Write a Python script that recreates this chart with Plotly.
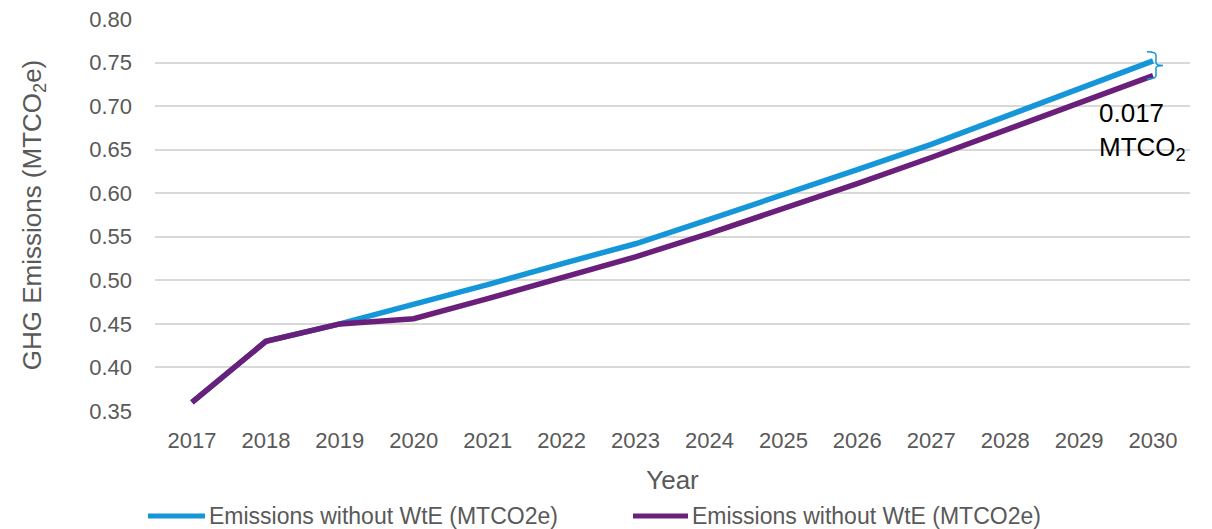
import plotly.graph_objects as go

# Projected GHG emissions, 2017-2030
years = [str(y) for y in range(2017, 2031)]
without_wte = [0.360, 0.430, 0.450, 0.472, 0.495, 0.519, 0.542, 0.570,
               0.598, 0.627, 0.656, 0.688, 0.720, 0.752]
with_wte = [0.360, 0.430, 0.450, 0.456, 0.479, 0.503, 0.527, 0.554,
            0.582, 0.611, 0.641, 0.672, 0.704, 0.735]
series_names = ["Emissions without WtE (MTCO2e)", "Emissions without WtE (MTCO2e)"]
y_ticks = [0.35, 0.40, 0.45, 0.50, 0.55, 0.60, 0.65, 0.70, 0.75, 0.80]

BLUE = "#1496D8"
PURPLE = "#6A1F7A"
GREY_TEXT = "#595959"
GRID = "#D9D9D9"
FONT = "Liberation Sans, Arial, sans-serif"

W, H = 1212, 529
ML, MR, MT, MB = 155, 22, 19, 118
plot_w = W - ML - MR
plot_h = H - MT - MB


def px_x(px):
    return (px - ML) / plot_w


def px_y(py):
    return (H - MB - py) / plot_h


fig = go.Figure()
fig.add_trace(go.Scatter(x=years, y=without_wte, mode="lines", name=series_names[0],
                         line=dict(color=BLUE, width=5.5), showlegend=False))
fig.add_trace(go.Scatter(x=years, y=with_wte, mode="lines", name=series_names[1],
                         line=dict(color=PURPLE, width=5.5), showlegend=False))

# Gap between the two scenarios in the final year
gap = without_wte[-1] - with_wte[-1]
top = without_wte[-1] + 0.0105
bot = with_wte[-1] - 0.004
mid = (top + bot) / 2
xa, xb, xc = px_x(1147), px_x(1156), px_x(1163)
brace = (f"M{xa},{top} Q{xb},{top} {xb},{top - 0.004} "
         f"L{xb},{mid + 0.003} Q{xb},{mid} {xc},{mid} "
         f"Q{xb},{mid} {xb},{mid - 0.003} "
         f"L{xb},{bot + 0.004} Q{xb},{bot} {xa},{bot}")
fig.add_shape(type="path", path=brace, xref="paper", yref="y",
              line=dict(color=BLUE, width=1.5))

fig.add_annotation(x=px_x(1097), y=px_y(96), xref="paper", yref="paper",
                   xanchor="left", yanchor="top", align="left", showarrow=False,
                   text=f"{gap:.3f}<br>MTCO<sub>2</sub>",
                   font=dict(family=FONT, size=26, color="#000000"))

# Legend drawn below the axis title
legend_items = [(148, 205, 207, BLUE), (633, 688, 690, PURPLE)]
for (x0, x1, xt, col), name in zip(legend_items, series_names):
    fig.add_shape(type="line", xref="paper", yref="paper",
                  x0=px_x(x0), x1=px_x(x1), y0=px_y(516), y1=px_y(516),
                  line=dict(color=col, width=5))
    fig.add_annotation(x=px_x(xt), y=px_y(516), xref="paper", yref="paper",
                       xanchor="left", yanchor="middle", showarrow=False,
                       text=name, font=dict(family=FONT, size=23, color=GREY_TEXT))

fig.update_layout(
    width=W, height=H,
    margin=dict(l=ML, r=MR, t=MT, b=MB, pad=0, autoexpand=False),
    plot_bgcolor="white", paper_bgcolor="white",
    font=dict(family=FONT, color=GREY_TEXT),
    showlegend=False,
)
fig.update_xaxes(
    type="category", range=[-0.5, len(years) - 0.5], automargin=False,
    showgrid=False, showline=False, zeroline=False, ticks="",
    tickfont=dict(size=22, color=GREY_TEXT), ticklabelstandoff=14,
    title=dict(text="Year", font=dict(size=26, color=GREY_TEXT), standoff=18),
)
fig.update_yaxes(
    range=[0.35, 0.80], tickvals=y_ticks, ticktext=[f"{v:.2f}" for v in y_ticks],
    automargin=False,
    showgrid=True, gridcolor=GRID, gridwidth=1.5, zeroline=False, showline=False,
    ticks="", tickfont=dict(size=22, color=GREY_TEXT), ticklabelstandoff=22,
    title=dict(text="GHG Emissions (MTCO<sub>2</sub>e)", font=dict(size=26, color=GREY_TEXT),
               standoff=40),
)

fig.write_html("out.html")
